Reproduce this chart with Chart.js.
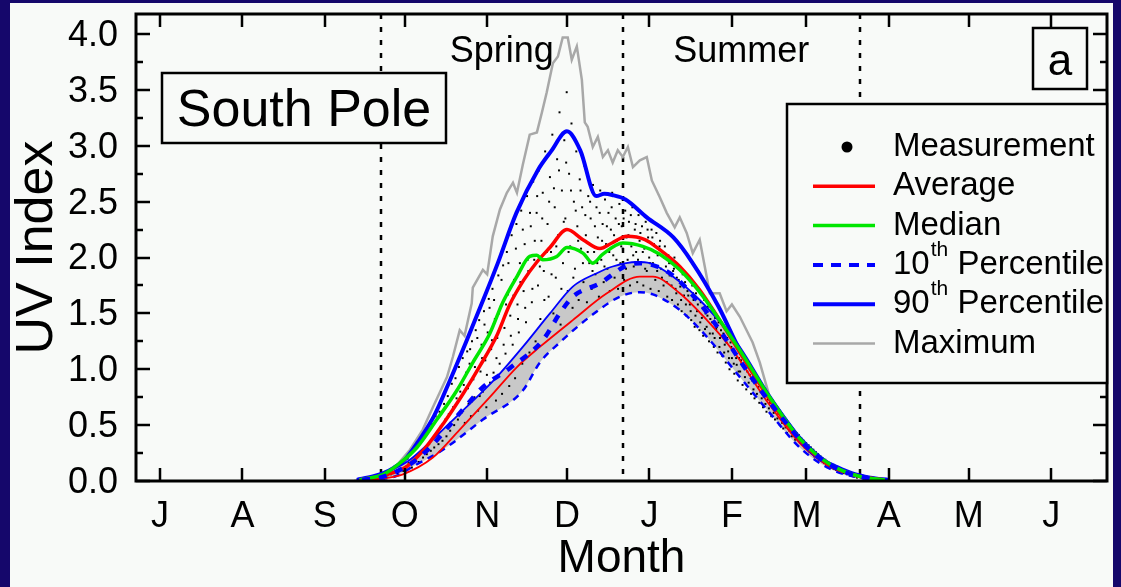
<!DOCTYPE html>
<html>
<head>
<meta charset="utf-8">
<script src="https://cdn.jsdelivr.net/npm/chart.js@4.4.1/dist/chart.umd.min.js"></script>
<style>
  html, body { margin: 0; padding: 0; background: #15076b; }
  canvas { display: block; }
</style>
</head>
<body>
<canvas id="uvChart" width="1121" height="587"></canvas>
<script>
// x = days since 1 July, y = UV index
const monthStarts = [0, 31, 62, 92, 123, 153, 184, 215, 243, 274, 304, 335];
const monthLabels = ['J', 'A', 'S', 'O', 'N', 'D', 'J', 'F', 'M', 'A', 'M', 'J'];
const yMajor = [0, 0.5, 1.0, 1.5, 2.0, 2.5, 3.0, 3.5, 4.0];
const yMinor = [0.25, 0.75, 1.25, 1.75, 2.25, 2.75, 3.25, 3.75];
const seasonDays = [83, 174, 263];

const maxUV = [[73,0.0],[79,0.03],[87.6,0.1],[94,0.28],[98.8,0.46],[102.6,0.66],[107.9,0.93],[110.1,1.11],[112.7,1.35],[114.5,1.3],[117.2,1.59],[117.6,1.73],[121.4,1.89],[123,1.85],[125.1,2.19],[127.8,2.43],[130.4,2.58],[132.7,2.67],[134.2,2.58],[136.4,2.83],[139,3.1],[141.7,3.12],[143.6,3.3],[145.4,3.48],[147.7,3.74],[149.6,3.8],[151.4,3.97],[153.3,3.97],[154.8,3.77],[156.7,3.89],[158.6,3.59],[159.7,3.21],[160.8,3.17],[162.7,2.99],[164.6,3.08],[166.5,2.9],[168.4,2.96],[170.2,2.85],[172.1,2.96],[174,2.9],[175.9,2.99],[177.8,2.81],[180.4,2.87],[183,2.9],[184.9,2.69],[187.9,2.54],[190.5,2.4],[193.5,2.27],[195.4,2.36],[198,2.22],[200.3,2.04],[202.9,2.16],[204.8,1.92],[206.7,1.68],[210.4,1.68],[213,1.52],[215,1.58],[218,1.47],[222.8,1.24],[225.5,1.06],[229.2,0.75],[234,0.56],[240.5,0.39],[246,0.25],[251.8,0.16],[257,0.09],[263.1,0.04],[272.5,0.01]];

const p90 = [[74,0.01],[80,0.04],[84,0.07],[88,0.12],[92,0.19],[97,0.35],[103,0.58],[109,0.9],[115,1.24],[121,1.59],[127,1.95],[134,2.4],[142,2.78],[147,2.95],[153,3.13],[158,2.96],[164,2.55],[167,2.57],[170,2.56],[175,2.52],[183,2.36],[193,2.18],[200,1.96],[210,1.56],[218,1.17],[229,0.75],[236,0.52],[242,0.33],[248,0.2],[254,0.13],[260,0.07],[267,0.03],[274,0.01]];

const average = [[75,0.01],[84,0.05],[92.8,0.13],[99.2,0.28],[106.7,0.52],[114.2,0.79],[120.3,1.03],[126.6,1.3],[131.5,1.58],[136.8,1.8],[141.7,1.96],[146.6,2.09],[153,2.25],[159,2.16],[165.4,2.08],[169.9,2.13],[175.5,2.19],[182.3,2.16],[187.9,2.07],[195.4,1.92],[202.9,1.71],[210.4,1.44],[218,1.15],[229.2,0.73],[240.5,0.37],[251.8,0.14],[263.1,0.04],[272.5,0.01]];

const median = [[75,0.01],[84,0.06],[90.2,0.16],[96.6,0.3],[104.1,0.55],[111.6,0.81],[117.6,1.06],[124,1.32],[128.9,1.6],[134.2,1.83],[139,2.01],[141.7,2.02],[143.9,1.98],[149.2,2.01],[153,2.09],[159,2.04],[162.7,1.95],[166.5,2.03],[174,2.13],[181.5,2.1],[187.9,2.03],[195.4,1.89],[202.9,1.69],[210.4,1.44],[218,1.17],[229.2,0.75],[240.5,0.38],[251.8,0.15],[263.1,0.04],[272.5,0.01]];

const p10 = [[76,0.01],[82.7,0.03],[94,0.15],[101.5,0.3],[113.9,0.64],[121.4,0.84],[131.5,1.01],[143.9,1.26],[150.3,1.5],[155.2,1.65],[165.4,1.77],[175.5,1.93],[180.4,1.95],[186.8,1.92],[192.8,1.84],[202.9,1.59],[210.4,1.35],[221.7,0.95],[233,0.59],[244.3,0.28],[255.5,0.1],[266.8,0.02]];

// shaded range: upper edge, middle, lower edge
const rangeUpper = [[74,0.01],[83.8,0.07],[92.8,0.17],[100.3,0.32],[109,0.52],[119.1,0.75],[126.6,0.93],[136.4,1.2],[146.6,1.5],[155.2,1.74],[164.2,1.86],[170.2,1.92],[179.3,1.96],[184.1,1.95],[192.8,1.83],[202.9,1.62],[213.1,1.35],[218,1.2],[229.2,0.77],[240.5,0.4],[251.8,0.16],[263.1,0.04],[273,0.01]];
const rangeMid = [[76,0.01],[82.7,0.02],[91.3,0.06],[102.6,0.21],[112.7,0.46],[124,0.75],[134.2,1.02],[142.8,1.2],[155.2,1.44],[168,1.68],[180.4,1.83],[185.3,1.83],[195.4,1.68],[205.6,1.44],[215.3,1.17],[229.2,0.68],[240.5,0.34],[251.8,0.13],[263.1,0.04],[272,0.01]];
const rangeLower = [[78,0.01],[88.3,0.04],[95.1,0.13],[106.4,0.28],[121.4,0.55],[136.4,0.81],[142.8,1.06],[150.3,1.24],[161.6,1.47],[172.9,1.65],[180.4,1.69],[185.3,1.67],[195.4,1.53],[205.6,1.29],[218,0.93],[229.2,0.61],[240.5,0.3],[251.8,0.11],[263.1,0.03],[272,0.0]];

// individual measurements [day, UV]
const measurements = [
[78.4,0.01],[79.6,0.03],[80.9,0.02],[81.5,0.05],[82.7,0.03],[83.2,0.06],[84.1,0.04],[84.8,0.07],[85.5,0.05],[86.3,0.09],[86.9,0.06],[87.4,0.11],[88.2,0.08],[88.7,0.13],[89.3,0.07],[89.9,0.15],
[90.4,0.11],[90.8,0.16],[91.5,0.09],[91.9,0.19],[92.6,0.13],[93.1,0.2],[93.5,0.16],[94.2,0.24],[94.7,0.12],[95.3,0.27],[95.8,0.19],[96.4,0.31],[96.9,0.22],[97.3,0.17],[97.8,0.35],[98.5,0.26],
[98.9,0.21],[99.4,0.39],[99.8,0.3],[100.3,0.24],[100.7,0.45],[101.2,0.33],[101.8,0.27],[102.3,0.51],[102.6,0.38],[103.1,0.3],[103.6,0.58],[104.2,0.43],[104.7,0.33],[105.1,0.62],[105.6,0.49],[106.2,0.36],
[106.8,0.69],[107.3,0.55],[107.7,0.4],[108.2,0.76],[108.6,0.6],[109.1,0.45],[109.7,0.87],[110.2,0.66],[110.6,0.5],[111.1,0.92],[111.5,0.74],[112.0,0.55],[112.4,1.02],[112.9,0.8],[113.3,0.61],[113.8,1.1],
[114.2,0.86],[114.6,0.52],[115.1,0.97],[115.5,1.16],[116.0,0.69],[116.4,1.05],[116.9,0.58],[117.3,1.25],[117.8,0.91],[118.2,0.75],[118.7,1.35],[119.1,1.12],[119.6,0.63],[120.0,1.44],[120.5,0.98],[120.9,1.22],
[121.4,0.8],[121.8,1.52],[122.3,1.08],[122.7,0.66],[123.2,1.33],[123.6,1.63],[124.1,0.88],[124.5,1.18],[125.0,1.72],[125.4,0.97],[125.9,1.45],[126.3,0.72],[126.8,1.28],[127.2,1.84],[127.7,1.05],[128.1,1.56],
[128.6,0.78],[129.0,1.93],[129.5,1.37],[129.9,1.14],[130.4,2.05],[130.8,1.67],[131.3,0.85],[131.7,1.48],[132.2,2.2],[132.6,1.22],[133.1,1.8],[133.5,0.92],[134.0,2.3],[134.4,1.58],[134.9,1.33],[135.3,1.95],
[135.8,2.42],[136.2,1.05],[136.7,1.7],[137.1,2.12],[137.6,1.42],[138.0,2.55],[138.5,1.88],[138.9,1.15],[139.4,2.28],[139.8,1.6],[140.3,2.68],[140.7,1.98],[141.2,1.25],[141.6,2.4],[142.1,1.75],[142.5,2.78],
[143.0,1.45],[143.4,2.15],[143.9,2.58],[144.3,1.88],[144.8,2.95],[145.2,1.3],[145.7,2.3],[146.1,1.65],[146.6,2.72],[147.0,2.05],[147.5,3.1],[147.9,1.5],[148.4,2.45],[148.8,1.82],[149.3,2.88],[149.7,2.2],
[150.2,3.3],[150.6,1.4],[151.1,2.6],[151.5,1.95],[152.0,3.05],[152.4,2.35],[152.9,3.48],[153.3,1.7],[153.8,2.75],[154.2,2.1],[154.7,3.2],[155.1,1.55],[155.6,2.5],[156.0,1.9],[156.5,2.95],[156.9,2.28],
[157.4,1.62],[157.8,2.7],[158.3,2.08],[158.7,2.45],[159.2,1.78],[159.6,2.82],[160.1,2.2],[160.5,1.6],[161.0,2.55],[161.4,1.95],[161.9,2.35],[162.3,1.72],[162.8,2.65],[163.2,2.05],[163.7,1.85],[164.1,2.45],
[164.6,2.18],[165.0,1.65],[165.5,2.6],[165.9,1.98],[166.4,2.3],[166.8,1.78],[167.3,2.52],[167.7,2.12],[168.2,1.9],[168.6,2.4],[169.1,1.7],[169.5,2.25],[170.0,2.58],[170.4,2.02],[170.9,1.82],[171.3,2.35],
[171.8,2.15],[172.2,1.72],[172.7,2.48],[173.1,1.95],[173.6,2.28],[174.0,2.08],[174.5,1.8],[174.9,2.42],[175.4,2.18],[175.8,1.98],[176.3,2.32],[176.7,1.75],[177.2,2.1],[177.6,2.45],[178.1,1.92],[178.5,2.25],
[179.0,2.05],[179.4,1.78],[179.9,2.38],[180.3,2.15],[180.8,1.95],[181.2,2.28],[181.7,1.75],[182.1,2.08],[182.6,2.32],[183.0,1.88],[183.5,2.18],[183.9,2.0],[184.4,1.72],[184.8,2.25],[185.3,1.95],[185.7,2.12],
[186.2,1.8],[186.6,2.22],[187.1,2.02],[187.5,1.7],[188.0,2.15],[188.4,1.9],[188.9,2.05],[189.3,1.75],[189.8,2.1],[190.2,1.92],[190.7,1.65],[191.1,2.02],[191.6,1.84],[192.0,1.95],[192.5,1.62],[192.9,1.88],
[193.4,2.0],[193.8,1.72],[194.3,1.82],[194.7,1.58],[195.2,1.9],[195.6,1.74],[196.1,1.52],[196.5,1.85],[197.0,1.66],[197.4,1.78],[197.9,1.48],[198.3,1.7],[198.8,1.82],[199.2,1.58],[199.7,1.44],[200.1,1.75],
[200.6,1.62],[201.0,1.38],[201.5,1.68],[201.9,1.52],[202.4,1.72],[202.8,1.35],[203.3,1.6],[203.7,1.46],[204.2,1.3],[204.6,1.62],[205.1,1.5],[205.5,1.38],[206.0,1.56],[206.4,1.25],[206.9,1.45],[207.3,1.52],
[207.8,1.32],[208.2,1.2],[208.7,1.46],[209.1,1.36],[209.6,1.15],[210.0,1.42],[210.5,1.28],[210.9,1.35],[211.4,1.12],[211.8,1.32],[212.3,1.22],[212.7,1.06],[213.2,1.28],[213.6,1.16],[214.1,1.0],[214.5,1.24],
[215.0,1.1],[215.4,1.18],[215.9,0.96],[216.3,1.14],[216.8,1.04],[217.2,0.9],[217.7,1.1],[218.1,0.98],[218.6,1.05],[219.0,0.86],[219.5,1.02],[219.9,0.93],[220.4,0.82],[220.8,0.98],[221.3,0.88],[221.7,0.95],
[222.2,0.78],[222.6,0.9],[223.1,0.82],[223.5,0.74],[224.0,0.88],[224.4,0.78],[224.9,0.84],[225.3,0.7],[225.8,0.8],[226.2,0.74],[226.7,0.66],[227.1,0.77],[227.6,0.69],[228.0,0.62],[228.5,0.73],[228.9,0.65],
[229.4,0.7],[229.8,0.58],[230.3,0.66],[230.7,0.61],[231.2,0.55],[231.6,0.63],[232.1,0.56],[232.5,0.6],[233.0,0.5],[233.4,0.57],[233.9,0.52],[234.3,0.47],[234.8,0.54],[235.2,0.48],[235.7,0.43],[236.1,0.51],
[236.6,0.45],[237.0,0.48],[237.5,0.4],[237.9,0.46],[238.4,0.41],[238.8,0.37],[239.3,0.43],[239.7,0.38],[240.2,0.41],[240.6,0.34],[241.1,0.38],[241.5,0.33],[242.0,0.36],[242.4,0.3],[242.9,0.34],[243.3,0.29],
[243.8,0.32],[244.2,0.26],[244.7,0.3],[245.1,0.25],[245.6,0.28],[246.0,0.22],[246.5,0.26],[246.9,0.21],[247.4,0.24],[247.8,0.19],[248.3,0.22],[248.7,0.18],[249.2,0.2],[249.6,0.16],[250.1,0.19],[250.5,0.15],
[251.0,0.17],[251.4,0.13],[251.9,0.16],[252.3,0.12],[252.8,0.14],[253.2,0.11],[253.7,0.13],[254.1,0.1],[254.6,0.12],[255.0,0.09],[255.5,0.1],[256.0,0.08],[256.5,0.09],[257.0,0.07],[257.6,0.08],[258.2,0.06],
[258.8,0.07],[259.4,0.05],[260.0,0.06],[260.7,0.04],[261.3,0.05],[262.0,0.03],[262.8,0.04],[263.6,0.03],[264.5,0.02],[265.4,0.03],[266.3,0.02],[267.2,0.01],[268.1,0.01],
[115.8,0.83],[116.6,1.18],[117.1,0.71],[118.4,1.02],[119.3,1.28],[120.2,0.76],[121.1,1.1],[122.0,1.4],[122.9,0.95],[123.9,1.55],[124.8,1.26],[125.6,1.62],[126.5,1.1],[127.4,1.5],[128.4,1.8],[129.2,1.22],
[130.1,1.58],[131.0,1.95],[131.9,1.3],[132.9,1.66],[133.8,2.08],[134.6,1.45],[135.5,1.78],[136.4,2.25],[137.3,1.55],[138.2,1.98],[139.1,2.4],[140.0,1.72],[140.9,2.15],[141.8,2.55],[142.8,1.92],[143.7,2.35],
[144.5,1.62],[145.4,2.05],[146.3,2.5],[147.2,1.85],[148.1,2.62],[149.0,2.1],[150.0,2.78],[150.9,1.72],[151.8,2.32],[152.7,2.85],[153.6,2.05],[154.5,2.6],[155.4,1.82],[156.3,2.42],[157.2,2.15],[158.1,2.6],
[159.0,1.95],[159.9,2.38],[160.8,2.05],[161.7,2.5],[162.6,1.88],[163.5,2.28],[164.4,1.95],[165.3,2.4],[166.2,2.15],[167.1,1.92],[168.0,2.28],[168.9,2.05],[169.8,2.45],[170.7,2.2],[171.6,1.98],[172.5,2.3],
[173.4,2.1],[174.3,2.35],[175.2,1.9],[176.1,2.2],[177.0,2.38],[177.9,2.02],[178.8,2.3],[179.7,1.98],[180.6,2.22],[181.5,2.05],[182.4,1.9],[183.3,2.25],[184.2,1.95],[185.1,2.18],[186.0,2.05],[186.9,1.88],
[187.8,2.1],[188.7,1.82],[189.6,2.0],[190.5,1.78],[191.4,1.95],[192.3,1.75],[193.2,1.9],[194.1,1.68],[195.0,1.8],[195.9,1.62],[196.8,1.76],[197.7,1.58],[198.6,1.66],[199.5,1.52],[200.4,1.68],[201.3,1.48],
[202.2,1.58],[203.1,1.42],[204.0,1.55],[204.9,1.36],[205.8,1.48],[206.7,1.32],[207.6,1.42],[208.5,1.28],[209.4,1.38],[210.3,1.2],[211.2,1.3],[212.1,1.15],[213.0,1.24],[213.9,1.1],[214.8,1.2],[215.7,1.05],
[216.6,1.1],[217.5,0.98],[218.4,1.08]
];

const FONT = "'Liberation Sans', Arial, Helvetica, sans-serif";
const PANEL = '#f8faf8';
const toXY = pairs => pairs.map(([d, v]) => ({ x: d, y: v }));

const smooth = { cubicInterpolationMode: 'monotone', pointRadius: 0 };

const datasets = [
  { label: '10th Percentile', data: toXY(p10), borderColor: '#0000ff', borderWidth: 4.5, borderDash: [8, 9], ...smooth },
  { label: 'Median', data: toXY(median), borderColor: '#00e600', borderWidth: 3.5, ...smooth },
  { label: 'Average', data: toXY(average), borderColor: '#ff0000', borderWidth: 3.5, ...smooth },
  { label: '90th Percentile', data: toXY(p90), borderColor: '#0000ff', borderWidth: 4, ...smooth },
  { label: 'range mid', data: toXY(rangeMid), borderColor: '#ff0000', borderWidth: 1.8, ...smooth },
  { label: 'range upper', data: toXY(rangeUpper), borderColor: '#0000ff', borderWidth: 1.8,
    fill: { target: 6 }, backgroundColor: '#c8c8c8', ...smooth },
  { label: 'range lower', data: toXY(rangeLower), borderColor: '#0000ff', borderWidth: 2.5, borderDash: [7, 6], ...smooth },
  { label: 'Maximum', data: toXY(maxUV), borderColor: '#a8a8a8', borderWidth: 2.5, tension: 0, pointRadius: 0 },
  { label: 'Measurement', data: toXY(measurements), showLine: false, pointStyle: 'rect', pointRadius: 1.4,
    pointBackgroundColor: '#000', pointBorderWidth: 0 }
];

const legendRows = [
  { text: 'Measurement', type: 'dot' },
  { text: 'Average', ds: 2 },
  { text: 'Median', ds: 1 },
  { text: '10', sup: 'th', rest: ' Percentile', ds: 0 },
  { text: '90', sup: 'th', rest: ' Percentile', ds: 3 },
  { text: 'Maximum', ds: 7 }
];

const decorations = {
  id: 'decorations',
  beforeDraw(chart) {
    const c = chart.ctx;
    c.save();
    c.fillStyle = '#15076b';
    c.fillRect(0, 0, chart.width, chart.height);
    c.fillStyle = PANEL;
    c.fillRect(10, 3, 1103, 584);
    c.restore();
  },
  beforeDatasetsDraw(chart) {
    const { ctx: c, chartArea: a, scales: { x } } = chart;
    c.save();
    c.strokeStyle = '#000';
    c.lineWidth = 2.5;
    c.setLineDash([5, 8]);
    seasonDays.forEach(d => {
      const px = Math.round(x.getPixelForValue(d));
      c.beginPath(); c.moveTo(px, a.top); c.lineTo(px, a.bottom); c.stroke();
    });
    c.restore();
  },
  afterDatasetsDraw(chart) {
    const { ctx: c, chartArea: a, scales: { x, y } } = chart;
    const seg = (x1, y1, x2, y2) => { c.beginPath(); c.moveTo(x1, y1); c.lineTo(x2, y2); c.stroke(); };
    c.save();
    c.strokeStyle = '#000';
    c.lineWidth = 2.5;
    // inward ticks on all four sides
    monthStarts.forEach(d => {
      const px = Math.round(x.getPixelForValue(d));
      seg(px, a.bottom, px, a.bottom - 13);
      seg(px, a.top, px, a.top + 13);
    });
    yMajor.forEach(v => {
      const py = Math.round(y.getPixelForValue(v));
      seg(a.left, py, a.left + 14, py);
      seg(a.right, py, a.right - 14, py);
    });
    yMinor.forEach(v => {
      const py = Math.round(y.getPixelForValue(v));
      seg(a.left, py, a.left + 7, py);
      seg(a.right, py, a.right - 7, py);
    });
    c.lineWidth = 3;
    c.strokeRect(a.left, a.top, a.right - a.left, a.bottom - a.top);

    // season names
    c.fillStyle = '#000';
    c.textAlign = 'center';
    c.textBaseline = 'alphabetic';
    c.font = `36px ${FONT}`;
    const mid = (d1, d2) => (x.getPixelForValue(d1) + x.getPixelForValue(d2)) / 2;
    c.fillText('Spring', mid(seasonDays[0], seasonDays[1]), 62);
    c.fillText('Summer', mid(seasonDays[1], seasonDays[2]), 62);

    // station box
    c.lineWidth = 2.5;
    c.fillStyle = PANEL;
    c.fillRect(162, 73, 284, 70);
    c.strokeRect(162, 73, 284, 70);
    c.fillStyle = '#000';
    c.font = `52px ${FONT}`;
    c.fillText('South Pole', 304, 126);

    // panel letter
    c.fillStyle = PANEL;
    c.fillRect(1033, 28, 54, 61);
    c.strokeRect(1033, 28, 54, 61);
    c.fillStyle = '#000';
    c.font = `44px ${FONT}`;
    c.fillText('a', 1060, 75);

    // legend
    c.fillStyle = PANEL;
    c.fillRect(787, 104, a.right - 787, 279);
    c.strokeRect(787, 104, a.right - 787, 279);
    c.textAlign = 'left';
    c.textBaseline = 'middle';
    legendRows.forEach((row, i) => {
      const ry = 147 + i * 39.3;
      if (row.type === 'dot') {
        c.fillStyle = '#000';
        c.beginPath(); c.arc(847, ry, 5.5, 0, Math.PI * 2); c.fill();
      } else {
        const ds = chart.data.datasets[row.ds];
        c.save();
        c.strokeStyle = ds.borderColor;
        c.lineWidth = Math.min(ds.borderWidth, 4);
        c.setLineDash(ds.borderDash ? [10, 8] : []);
        seg(813, ry, 875, ry);
        c.restore();
      }
      c.fillStyle = '#000';
      c.font = `33px ${FONT}`;
      c.fillText(row.text, 893, ry);
      if (row.sup) {
        let tx = 893 + c.measureText(row.text).width;
        c.font = `21px ${FONT}`;
        c.fillText(row.sup, tx + 1, ry - 15);
        tx += c.measureText(row.sup).width + 1;
        c.font = `33px ${FONT}`;
        c.fillText(row.rest, tx, ry);
      }
    });
    c.restore();
  }
};

const ctx = document.getElementById('uvChart').getContext('2d');
const chart = new Chart(ctx, {
  type: 'line',
  data: { datasets },
  options: {
    responsive: false,
    animation: false,
    devicePixelRatio: 1,
    layout: { padding: { top: 14, right: 14, left: 0, bottom: 0 } },
    elements: { point: { radius: 0 } },
    plugins: {
      legend: { display: false },
      tooltip: { enabled: false },
      filler: { drawTime: 'beforeDatasetsDraw' }
    },
    scales: {
      x: {
        type: 'linear',
        min: -9,
        max: 356,
        afterBuildTicks: s => { s.ticks = monthStarts.map(v => ({ value: v })); },
        afterFit: s => { s.height = 106; s.paddingLeft = 0; s.paddingRight = 0; },
        ticks: {
          callback: (v, i) => monthLabels[i],
          autoSkip: false,
          maxRotation: 0,
          padding: 14,
          color: '#000',
          font: { family: FONT, size: 36 }
        },
        grid: { display: false, drawTicks: false },
        border: { display: false },
        title: { display: true, text: 'Month', color: '#000', font: { family: FONT, size: 46 }, padding: { top: 0, bottom: 0 } }
      },
      y: {
        min: 0,
        max: 4.18,
        afterBuildTicks: s => { s.ticks = yMajor.map(v => ({ value: v })); },
        afterFit: s => { s.width = 136; s.paddingTop = 0; s.paddingBottom = 0; },
        ticks: {
          callback: v => v.toFixed(1),
          padding: 18,
          labelOffset: 2,
          color: '#000',
          font: { family: FONT, size: 36 }
        },
        grid: { display: false, drawTicks: false },
        border: { display: false },
        title: { display: true, text: 'UV Index', color: '#000', font: { family: FONT, size: 52 }, padding: { top: 6, bottom: 0 } }
      }
    }
  },
  plugins: [decorations]
});
</script>
</body>
</html>
